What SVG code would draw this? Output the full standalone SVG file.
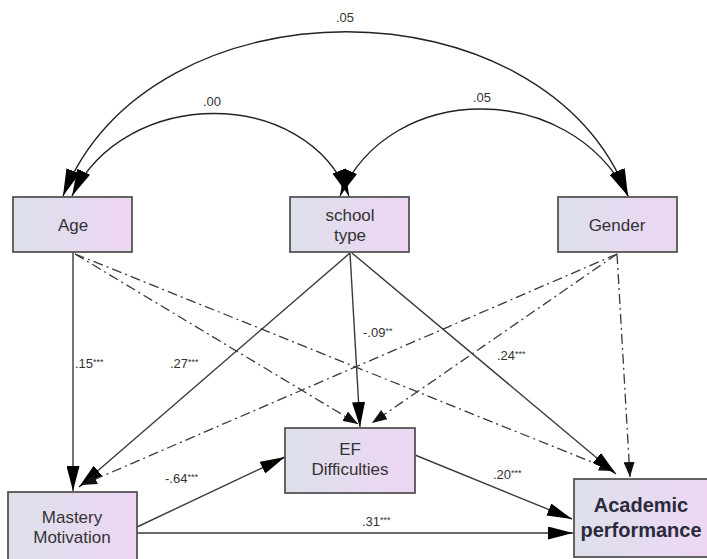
<svg xmlns="http://www.w3.org/2000/svg" width="707" height="559" viewBox="0 0 707 559">
<style>
.box{fill:url(#bg);stroke:#555;stroke-width:1.8}
.nt{font-family:"Liberation Sans",Arial,sans-serif;font-size:17px;fill:#333;text-anchor:middle}
.bt{font-family:"Liberation Sans",Arial,sans-serif;font-size:20px;font-weight:bold;fill:#2b2b3b;text-anchor:middle}
.lb{font-family:"Liberation Sans",Arial,sans-serif;font-size:13px;fill:#333}
.st{font-size:9px}
.sol{fill:none;stroke:#3a3a3a;stroke-width:1.4;marker-end:url(#ah)}
.dd{fill:none;stroke:#3a3a3a;stroke-width:1.3;stroke-dasharray:10 4 2 4;marker-end:url(#ahs)}
.cov{fill:none;stroke:#222;stroke-width:1.4;marker-start:url(#ahc);marker-end:url(#ahc)}
</style>
<defs>
<linearGradient id="bg" x1="0" y1="0" x2="1" y2="0">
<stop offset="0" stop-color="#dde0ec"/>
<stop offset="1" stop-color="#eed6f3"/>
</linearGradient>
<marker id="ah" markerUnits="userSpaceOnUse" markerWidth="26" markerHeight="13" refX="25" refY="6.5" orient="auto-start-reverse" viewBox="0 0 26 13">
<path d="M0,0 L25,6.5 L0,13 z" fill="#000"/>
</marker>
<marker id="ahc" markerUnits="userSpaceOnUse" markerWidth="28" markerHeight="14" refX="27" refY="7" orient="auto-start-reverse" viewBox="0 0 28 14">
<path d="M0,0 L27,7 L0,14 z" fill="#000"/>
</marker>
<marker id="ahs" markerUnits="userSpaceOnUse" markerWidth="16" markerHeight="11" refX="15" refY="5.5" orient="auto" viewBox="0 0 16 11">
<path d="M0,0 L15,5.5 L0,11 z" fill="#111"/>
</marker>
</defs>
<g id="connectors">
<path class="cov" d="M63,196 C150,-23 543,-23 628,196"/>
<path class="cov" d="M72,196 C125,86 305,86 349,196"/>
<path class="cov" d="M340,196 C390,80 570,80 628,196"/>
<path class="sol" d="M73,252 L73,491"/>
<path class="sol" d="M350,253 L79,487"/>
<path class="dd" d="M617,254 L82,485"/>
<path class="dd" d="M75,254 L358,424"/>
<path class="sol" d="M350,253 L360,427"/>
<path class="dd" d="M617,254 L372,423"/>
<path class="dd" d="M75,254 L614,471"/>
<path class="sol" d="M352,253 L616,474"/>
<path class="dd" d="M617,254 L630,477"/>
<path class="sol" d="M137,527 L285,457"/>
<path class="sol" d="M137,533 L573,533"/>
<path class="sol" d="M415,455 L572,519"/>
<text class="lb" x="345" y="22" text-anchor="middle">.05</text>
<text class="lb" x="212" y="106" text-anchor="middle">.00</text>
<text class="lb" x="482" y="102" text-anchor="middle">.05</text>
<text class="lb" x="75" y="368">.15<tspan class="st" dy="-3">***</tspan></text>
<text class="lb" x="170" y="368">.27<tspan class="st" dy="-3">***</tspan></text>
<text class="lb" x="363" y="337">-.09<tspan class="st" dy="-3">**</tspan></text>
<text class="lb" x="497" y="360">.24<tspan class="st" dy="-3">***</tspan></text>
<text class="lb" x="165" y="483">-.64<tspan class="st" dy="-3">***</tspan></text>
<text class="lb" x="493" y="479">.20<tspan class="st" dy="-3">***</tspan></text>
<text class="lb" x="362" y="526">.31<tspan class="st" dy="-3">***</tspan></text>
</g>
<g id="age">
<rect class="box" x="13" y="197" width="119" height="55"/>
<text class="nt" x="73" y="231">Age</text>
</g>
<g id="school-type">
<rect class="box" x="290" y="197" width="119" height="55"/>
<text class="nt" x="350" y="221">school</text>
<text class="nt" x="350" y="241">type</text>
</g>
<g id="gender">
<rect class="box" x="558" y="197" width="119" height="55"/>
<text class="nt" x="617" y="231">Gender</text>
</g>
<g id="ef-difficulties">
<rect class="box" x="285" y="428" width="130" height="65"/>
<text class="nt" x="350" y="455">EF</text>
<text class="nt" x="350" y="475">Difficulties</text>
</g>
<g id="mastery-motivation">
<rect class="box" x="8" y="492" width="129" height="80"/>
<text class="nt" x="72" y="523">Mastery</text>
<text class="nt" x="72" y="543">Motivation</text>
</g>
<g id="academic-performance">
<rect class="box" x="574" y="479" width="140" height="78"/>
<text class="bt" x="641" y="512">Academic</text>
<text class="bt" x="641" y="537">performance</text>
</g>
</svg>
